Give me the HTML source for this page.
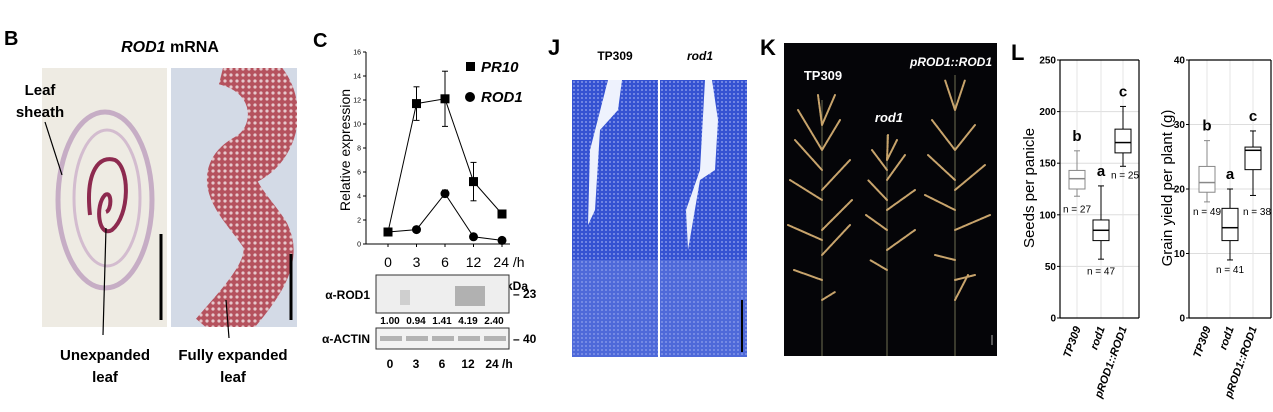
<!DOCTYPE html>
<html><head><meta charset="utf-8"><style>
html,body{margin:0;padding:0;background:#fff;}
svg{display:block;font-family:"Liberation Sans",Arial,sans-serif;}
</style></head><body>
<svg width="1273" height="412" viewBox="0 0 1273 412" xmlns="http://www.w3.org/2000/svg">
<defs>
<pattern id="cells" width="6" height="6" patternUnits="userSpaceOnUse"><rect width="6" height="6" fill="#b5525e"/><circle cx="3" cy="3" r="1.6" fill="#e5c8cc"/></pattern>
<pattern id="blue" width="4" height="4" patternUnits="userSpaceOnUse"><rect width="4" height="4" fill="#3552d2"/><circle cx="2" cy="2" r="0.9" fill="#9aaaf0"/></pattern>
<clipPath id="clipB2"><rect x="171" y="68" width="126" height="259"/></clipPath>
</defs>

<!-- Panel B -->
<g>
<text x="4" y="45" font-size="20" font-weight="bold">B</text>
<text x="170" y="52" font-size="16" font-weight="bold" text-anchor="middle"><tspan font-style="italic">ROD1</tspan> mRNA</text>
<rect x="42" y="68" width="125" height="259" fill="#eeebe3"/>
<ellipse cx="105" cy="200" rx="47" ry="88" fill="none" stroke="#b593b8" stroke-width="5" opacity="0.7"/>
<ellipse cx="107" cy="198" rx="33" ry="68" fill="none" stroke="#c7a8c6" stroke-width="3" opacity="0.7"/>
<path d="M90,215 C85,170 100,155 115,160 C130,168 130,215 112,230 C98,238 95,205 105,195 C112,190 112,210 106,212" fill="none" stroke="#8d2a4f" stroke-width="4"/>
<line x1="161" y1="234" x2="161" y2="320" stroke="#000" stroke-width="3"/>
<rect x="171" y="68" width="126" height="259" fill="#d3dae6"/>
<g clip-path="url(#clipB2)">
<path d="M225,60 C285,75 285,140 245,160 C212,180 250,210 265,235 C280,265 245,300 215,335" fill="none" stroke="url(#cells)" stroke-width="50"/>
</g>
<line x1="291" y1="254" x2="291" y2="320" stroke="#000" stroke-width="3"/>
<text x="40" y="95" font-size="15" font-weight="bold" text-anchor="middle">Leaf</text>
<text x="40" y="117" font-size="15" font-weight="bold" text-anchor="middle">sheath</text>
<line x1="45" y1="122" x2="62" y2="175" stroke="#000" stroke-width="1.2"/>
<line x1="103" y1="335" x2="106" y2="228" stroke="#000" stroke-width="1.2"/>
<text x="105" y="360" font-size="15" font-weight="bold" text-anchor="middle">Unexpanded</text>
<text x="105" y="382" font-size="15" font-weight="bold" text-anchor="middle">leaf</text>
<line x1="229" y1="338" x2="226" y2="300" stroke="#000" stroke-width="1.2"/>
<text x="233" y="360" font-size="15" font-weight="bold" text-anchor="middle">Fully expanded</text>
<text x="233" y="382" font-size="15" font-weight="bold" text-anchor="middle">leaf</text>
</g>

<!-- Panel C -->
<g id="panelC">
<text x="313" y="47" font-size="20" font-weight="bold">C</text>
<text transform="translate(350,150) rotate(-90)" font-size="14" text-anchor="middle">Relative expression</text>
<rect x="466" y="62" width="9" height="9" fill="#000"/>
<text x="481" y="72" font-size="15" font-weight="bold" font-style="italic">PR10</text>
<circle cx="470" cy="97" r="5" fill="#000"/>
<text x="481" y="102" font-size="15" font-weight="bold" font-style="italic">ROD1</text>
</g>

<!-- Western blot -->
<g>
<text x="506" y="290" font-size="12" font-weight="bold">kDa</text>
<rect x="376" y="275" width="133" height="38" fill="#eeeeee" stroke="#333"/>
<rect x="455" y="286" width="30" height="20" fill="#888" opacity="0.6"/>
<rect x="400" y="290" width="10" height="15" fill="#bbb" opacity="0.6"/>
<text x="370" y="299" font-size="12" font-weight="bold" text-anchor="end">α-ROD1</text>
<text x="513" y="298" font-size="12" font-weight="bold">– 23</text>
<rect x="376" y="328" width="133" height="21" fill="#f2f2f2" stroke="#333"/>
<text x="370" y="343" font-size="12" font-weight="bold" text-anchor="end">α-ACTIN</text>
<text x="513" y="343" font-size="12" font-weight="bold">– 40</text>
<g id="blotNums"></g>
</g>

<!-- Panel J -->
<g>
<text x="548" y="55" font-size="22" font-weight="bold">J</text>
<text x="615" y="60" font-size="12" font-weight="bold" text-anchor="middle">TP309</text>
<text x="700" y="60" font-size="12" font-weight="bold" font-style="italic" text-anchor="middle">rod1</text>
<rect x="572" y="80" width="86" height="277" fill="url(#blue)"/>
<rect x="660" y="80" width="87" height="277" fill="url(#blue)"/>
<rect x="572" y="260" width="86" height="97" fill="#7f95e8" opacity="0.35"/>
<rect x="660" y="260" width="87" height="97" fill="#7f95e8" opacity="0.35"/>
<path d="M608,80 L622,80 L618,110 L600,130 L595,210 L588,225 L590,150 Z" fill="#eef2fd"/>
<path d="M705,80 L712,80 L718,120 L715,170 L700,180 L688,250 L686,210 L700,170 Z" fill="#eef2fd"/>
<line x1="742" y1="300" x2="742" y2="352" stroke="#000" stroke-width="2"/>
</g>

<!-- Panel K -->
<g>
<text x="760" y="55" font-size="22" font-weight="bold">K</text>
<rect x="784" y="43" width="213" height="313" fill="#050508"/>
<g stroke="#6e6e52" stroke-width="1" fill="none">
<line x1="822" y1="356" x2="822" y2="100"/>
<line x1="887" y1="356" x2="887" y2="135"/>
<line x1="955" y1="356" x2="955" y2="75"/>
</g>
<g stroke="#c8a46c" stroke-width="2" fill="none" stroke-linecap="round" stroke-dasharray="3 1">
<path d="M822,150 L798,110 M822,170 L795,140 M822,200 L790,180 M822,240 L788,225 M822,280 L794,270 M822,150 L840,120 M822,190 L850,160 M822,230 L852,200 M822,255 L850,225 M822,125 L818,95 M822,125 L835,95 M822,300 L835,292"/>
<path d="M887,170 L872,150 M887,200 L868,180 M887,230 L866,215 M887,270 L870,260 M887,180 L905,155 M887,210 L915,190 M887,250 L915,230 M887,160 L888,135 M887,160 L897,140"/>
<path d="M955,110 L945,80 M955,110 L965,80 M955,150 L932,120 M955,180 L928,155 M955,210 L925,195 M955,260 L935,255 M955,150 L975,125 M955,190 L985,165 M955,230 L990,215 M955,280 L975,275 M955,300 L968,275"/>
</g>
<text x="823" y="80" font-size="13" font-weight="bold" fill="#fff" text-anchor="middle">TP309</text>
<text x="889" y="122" font-size="13" font-weight="bold" font-style="italic" fill="#fff" text-anchor="middle">rod1</text>
<text x="951" y="66" font-size="12" font-weight="bold" font-style="italic" fill="#fff" text-anchor="middle">pROD1::ROD1</text>
<line x1="992" y1="335" x2="992" y2="345" stroke="#aaa" stroke-width="1"/>
</g>

<!-- Panel L -->
<g id="panelL">
<text x="1011" y="60" font-size="22" font-weight="bold">L</text>
<text transform="translate(1034,188) rotate(-90)" font-size="15" text-anchor="middle">Seeds per panicle</text>
<text transform="translate(1172,188) rotate(-90)" font-size="15" text-anchor="middle">Grain yield per plant (g)</text>
</g>
</svg>
<script>
const NS="http://www.w3.org/2000/svg";
function mk(tag,attrs,parent,txt){const e=document.createElementNS(NS,tag);for(const k in attrs)e.setAttribute(k,attrs[k]);if(txt!==undefined)e.textContent=txt;parent.appendChild(e);return e;}

// Panel C data
const timeLabels=["0","3","6","12","24 /h"];
const pr10=[1.0,11.7,12.1,5.2,2.5];
const pr10Err=[0.1,1.4,2.3,1.6,0.25];
const rod1=[1.0,1.2,4.2,0.6,0.3];
const rod1Err=[0.1,0.1,0.3,0.1,0.1];
const yTicksC=[0,2,4,6,8,10,12,14,16];
const blotValues=["1.00","0.94","1.41","4.19","2.40"];
const blotLanes=["0","3","6","12","24 /h"];

const C=document.getElementById('panelC');
const cx0=388,cdx=28.5,cy0=244,cy16=52;
const xC=i=>cx0+i*cdx, yC=v=>cy0-(cy0-cy16)*v/16;
mk('line',{x1:366,y1:yC(16),x2:366,y2:cy0,stroke:'#000','stroke-width':1},C);
mk('line',{x1:366,y1:cy0,x2:510,y2:cy0,stroke:'#000','stroke-width':1},C);
yTicksC.forEach(t=>{
 mk('line',{x1:363,y1:yC(t),x2:366,y2:yC(t),stroke:'#000'},C);
 const l=mk('text',{x:361,y:yC(t)+2.5,'font-size':7,'text-anchor':'end'},C,t);
 
 
});
timeLabels.forEach((t,i)=>{
 mk('line',{x1:xC(i),y1:cy0,x2:xC(i),y2:cy0+3,stroke:'#000'},C);
 const l=mk('text',{x:xC(i)+(i==4?7:0),y:cy0+23,'font-size':14,'text-anchor':'middle'},C,t);
 
 
});
function series(vals,errs,shape,name){
 mk('polyline',{points:vals.map((v,i)=>xC(i)+','+yC(v)).join(' '),fill:'none',stroke:'#000','stroke-width':1},C);
 vals.forEach((v,i)=>{
  const x=xC(i);
  mk('line',{x1:x,y1:yC(v+errs[i]),x2:x,y2:yC(v-errs[i]),stroke:'#000'},C);
  mk('line',{x1:x-3,y1:yC(v+errs[i]),x2:x+3,y2:yC(v+errs[i]),stroke:'#000'},C);
  mk('line',{x1:x-3,y1:yC(v-errs[i]),x2:x+3,y2:yC(v-errs[i]),stroke:'#000'},C);
  let m;
  if(shape=='sq') m=mk('rect',{x:x-4.5,y:yC(v)-4.5,width:9,height:9,fill:'#000'},C);
  else m=mk('circle',{cx:x,cy:yC(v),r:4.5,fill:'#000'},C);
  
  
 });
}
series(pr10,pr10Err,'sq','pr10');
series(rod1,rod1Err,'ci','rod1');

const BN=document.getElementById('blotNums');
blotValues.forEach((v,i)=>{
 const t=mk('text',{x:390+i*26,y:324,'font-size':10,'font-weight':'bold','text-anchor':'middle'},BN,v);
 
 
 mk('rect',{x:380+i*26,y:336,width:22,height:5,fill:'#999',opacity:0.7},BN);
});
blotLanes.forEach((v,i)=>{
 const t=mk('text',{x:390+i*26+(i==4?5:0),y:368,'font-size':12,'font-weight':'bold','text-anchor':'middle'},BN,v);
 
 
});

// Panel L data
const genotypes=["TP309","rod1","pROD1::ROD1"];
const seedsBox=[[118,125,135,143,162],[57,75,85,95,128],[147,160,170,183,205]];
const seedsLetters=["b","a","c"];
const seedsN=["n = 27","n = 47","n = 25"];
const seedsTicks=[0,50,100,150,200,250];
const grainBox=[[18,19.5,21,23.5,27.5],[9,12,14,17,20],[19,23,26,26.5,29]];
const grainLetters=["b","a","c"];
const grainN=["n = 49","n = 41","n = 38"];
const grainTicks=[0,10,20,30,40];

const L=document.getElementById('panelL');
function boxplot(ax0,ax1,xs,ymax,ticks,boxes,letters,ns,nPos,name){
 const y0=318,yTop=60;
 const y=v=>y0-(y0-yTop)*v/ymax;
 ticks.forEach(t=>{
  mk('line',{x1:ax0,y1:y(t),x2:ax1,y2:y(t),stroke:'#ddd'},L);
  mk('line',{x1:ax0-3,y1:y(t),x2:ax0,y2:y(t),stroke:'#000'},L);
  const l=mk('text',{x:ax0-4,y:y(t)+3.5,'font-size':10,'font-weight':'bold','text-anchor':'end'},L,t);
  
  
 });
 xs.forEach(x=>mk('line',{x1:x,y1:yTop,x2:x,y2:y0,stroke:'#e4e4e4'},L));
 mk('line',{x1:ax0,y1:yTop,x2:ax0,y2:y0,stroke:'#000','stroke-width':1.2},L);
 mk('line',{x1:ax0,y1:y0,x2:ax1,y2:y0,stroke:'#000','stroke-width':1.2},L);
 mk('line',{x1:ax0,y1:yTop,x2:ax1,y2:yTop,stroke:'#000','stroke-width':1.2},L);
 mk('line',{x1:ax1,y1:yTop,x2:ax1,y2:y0,stroke:'#000','stroke-width':1.2},L);
 boxes.forEach((b,i)=>{
  const x=xs[i],col=i==0?'#888':'#000';
  mk('line',{x1:x,y1:y(b[0]),x2:x,y2:y(b[4]),stroke:col},L);
  mk('line',{x1:x-3,y1:y(b[4]),x2:x+3,y2:y(b[4]),stroke:col},L);
  mk('line',{x1:x-3,y1:y(b[0]),x2:x+3,y2:y(b[0]),stroke:col},L);
  const r=mk('rect',{x:x-8,y:y(b[3]),width:16,height:y(b[1])-y(b[3]),fill:'#fff',stroke:col},L);
  
  
  mk('line',{x1:x-8,y1:y(b[2]),x2:x+8,y2:y(b[2]),stroke:col,'stroke-width':1.5},L);
  const lt=mk('text',{x:x,y:y(b[4])-10,'font-size':15,'font-weight':'bold','text-anchor':'middle'},L,letters[i]);
  
  
  const nt=mk('text',{x:x+nPos[i][0],y:y(nPos[i][1]),'font-size':10,'text-anchor':'middle'},L,ns[i]);
  
  
  const g=mk('text',{transform:`translate(${x+4},${y0+10}) rotate(-70)`,'font-size':11,'font-weight':'bold','font-style':'italic','text-anchor':'end'},L,genotypes[i]);
  
  
 });
}
boxplot(1060,1139,[1077,1101,1123],250,seedsTicks,seedsBox,seedsLetters,seedsN,[[0,102],[0,42],[2,135]],'seeds');
boxplot(1189,1271,[1207,1230,1253],40,grainTicks,grainBox,grainLetters,grainN,[[0,16],[0,7],[4,16]],'grain');
</script>
</body></html>
